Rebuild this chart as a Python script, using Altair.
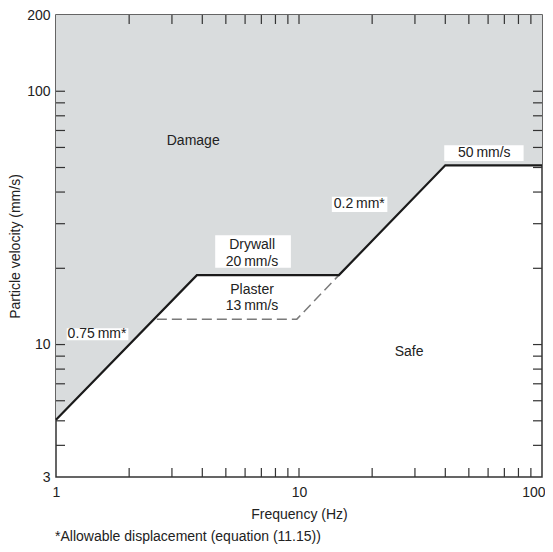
import altair as alt
import pandas as pd

# Solid criterion line (frequency Hz, particle velocity mm/s)
solid_f = [1, 3.8, 14.6, 40, 100]
solid_v = [5.05, 18.8, 18.8, 51, 51]

# Dashed plaster line
dash_f = [2.6, 9.8, 14.6]
dash_v = [12.6, 12.6, 18.8]

# Tick values
x_minor = [2, 3, 4, 5, 6, 7, 8, 9, 10, 20, 30, 40, 50, 60, 70, 80, 90]
y_minor = [4, 5, 6, 7, 8, 9, 10, 20, 30, 40, 50, 60, 70, 80, 90, 100]
x_labels = [1, 10, 100]
y_labels = [3, 10, 100, 200]

# Annotations (data coordinates)
ann_text = ["Damage", "Safe", "Drywall", "20\u2009mm/s", "Plaster", "13\u2009mm/s",
            "0.75\u2009mm*", "0.2\u2009mm*", "50\u2009mm/s"]
ann_f = [3.67, 28.4, 6.41, 6.41, 6.41, 6.41, 1.475, 17.7, 57.9]
ann_v = [63.7, 9.38, 24.7, 21.2, 16.4, 14.2, 11.0, 35.8, 57.0]

# White label boxes (data coordinates)
box_f1 = [4.52, 39.6, 13.65, 1.107]
box_f2 = [9.26, 84.0, 23.1, 1.985]
box_v1 = [20.1, 53.1, 33.4, 10.4]
box_v2 = [27.0, 61.2, 38.3, 11.6]

W, H = 486, 462
FONT = "Liberation Sans"
TXT = "#222222"
AX = "#333333"

solid = pd.DataFrame({"f": solid_f, "v": solid_v})
dashed = pd.DataFrame({"f": dash_f, "v": dash_v})
ann = pd.DataFrame({"f": ann_f, "v": ann_v, "t": ann_text})
boxes = pd.DataFrame({"f1": box_f1, "f2": box_f2, "v1": box_v1, "v2": box_v2})
xt = pd.DataFrame({"f": x_minor})
yt = pd.DataFrame({"v": y_minor})

xs = alt.Scale(type="log", domain=[1, 100], nice=False)
ys = alt.Scale(type="log", domain=[3, 200], nice=False)

x_axis = alt.Axis(values=x_labels, format="d", ticks=False, tickSize=0, domain=False,
                  grid=False, labelPadding=8, labelFlush=False,
                  labelAlign=alt.ExprRef("datum.value == 100 ? 'right' : 'center'"),
                  labelOffset=alt.ExprRef("datum.value == 100 ? 3 : 0"),
                  title="Frequency (Hz)", titlePadding=8)
y_axis = alt.Axis(values=y_labels, format="d", ticks=False, tickSize=0, domain=False,
                  grid=False, labelPadding=6, title="Particle velocity (mm/s)",
                  titlePadding=4)

X = alt.X("f:Q", scale=xs, axis=x_axis)
Y = alt.Y("v:Q", scale=ys, axis=y_axis)

area = alt.Chart(solid).mark_area(color="#d9dcdd").encode(
    x=X, y=Y, y2=alt.datum(200)
)

rects = alt.Chart(boxes).mark_rect(color="white").encode(
    x=alt.X("f1:Q", scale=xs, axis=x_axis), x2="f2:Q",
    y=alt.Y("v1:Q", scale=ys, axis=y_axis), y2="v2:Q"
)

dash_line = alt.Chart(dashed).mark_line(color="#7a7a7a", strokeWidth=1.5,
                                        strokeDash=[10, 5]).encode(x=X, y=Y)

solid_line = alt.Chart(solid).mark_line(color="#1a1a1a", strokeWidth=2.2).encode(x=X, y=Y)

texts = alt.Chart(ann).mark_text(font=FONT, fontSize=14, color=TXT,
                                 align="center", baseline="middle").encode(
    x=X, y=Y, text="t:N"
)

tick_style = dict(color=AX, strokeWidth=1.2)
xt_bottom = alt.Chart(xt).mark_rule(**tick_style).encode(
    x=X, y=alt.value(H), y2=alt.value(H - 9))
xt_top = alt.Chart(xt).mark_rule(**tick_style).encode(
    x=X, y=alt.value(0), y2=alt.value(9))
yt_left = alt.Chart(yt).mark_rule(**tick_style).encode(
    y=Y, x=alt.value(0), x2=alt.value(9))
yt_right = alt.Chart(yt).mark_rule(**tick_style).encode(
    y=Y, x=alt.value(W), x2=alt.value(W - 9))

foot = alt.Chart(pd.DataFrame({"t": ["*Allowable displacement (equation (11.15))"]})).mark_text(
    font=FONT, fontSize=14, color=TXT, align="left", baseline="middle"
).encode(x=alt.value(-1), y=alt.value(H + 60), text="t:N")

chart = alt.layer(
    area, rects, dash_line, solid_line, texts,
    xt_bottom, xt_top, yt_left, yt_right, foot
).properties(
    width=W, height=H,
    autosize="none",
    padding={"left": 48, "top": 7, "right": 3, "bottom": 67},
).configure_view(
    stroke=AX, strokeWidth=1.5
).configure_axis(
    labelFont=FONT, labelFontSize=14, labelColor=TXT,
    titleFont=FONT, titleFontSize=14, titleFontWeight="normal", titleColor=TXT
)

chart.save("out.html", embed_options={"renderer": "svg", "actions": False})
